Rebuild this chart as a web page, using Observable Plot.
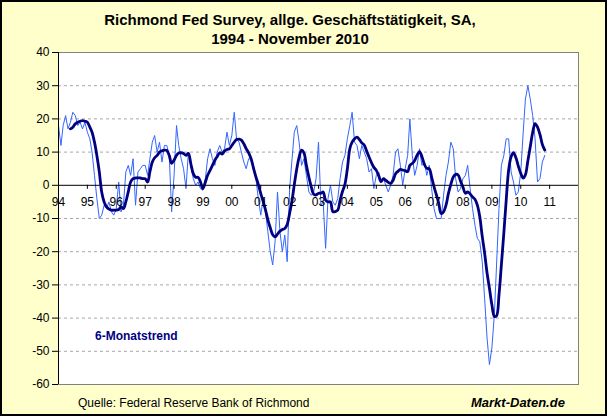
<!DOCTYPE html>
<html>
<head>
<meta charset="utf-8">
<script src="https://cdn.jsdelivr.net/npm/d3@7"></script>
<script src="https://cdn.jsdelivr.net/npm/@observablehq/plot@0.6"></script>
<style>
  html, body { margin: 0; padding: 0; background: #fff; }
  #wrap { position: relative; width: 607px; height: 416px; background: #FFFFCC; overflow: hidden;
          font-family: "Liberation Sans", Arial, sans-serif; }
  #wrap svg { position: absolute; left: 0; top: 0; }
  .t { position: absolute; white-space: nowrap; line-height: 1; color: #000; }
  #border { position: absolute; left: 0; top: 0; width: 607px; height: 416px; box-sizing: border-box;
            border: 2px solid #000; pointer-events: none; }
</style>
</head>
<body>
<div id="wrap">
  <div class="t" style="left:0;width:580px;text-align:center;top:12.3px;font-size:15px;font-weight:bold;">Richmond Fed Survey, allge. Geschäftstätigkeit, SA,</div>
  <div class="t" style="left:0;width:580px;text-align:center;top:31.3px;font-size:15px;font-weight:bold;">1994 - November 2010</div>
  <div id="chart"></div>
  <div class="t" style="left:95px;top:330.3px;font-size:12px;font-weight:bold;color:#000080;">6-Monatstrend</div>
  <div class="t" style="left:78px;top:396.5px;font-size:12px;">Quelle: Federal Reserve Bank of Richmond</div>
  <div class="t" style="left:471px;top:396.3px;font-size:13px;font-weight:bold;font-style:italic;">Markt-Daten.de</div>
  <div id="border"></div>
</div>
<script>
// Monthly index, January 1994 - November 2010
const startYear = 1994;
const monthly = [
  18,12,18,21,17,19,22,21,18,19,17,19,
  16,14,10,3,-4,-10,-9,-6,-7,-5,-8,-9,
  -7,1,-8,-6,4,6,3,8,-6,4,5,6,
  6,3,8,13,15,10,13,7,12,12,9,-8,
  3,18,12,8,5,-1,10,6,2,0,1,-1,
  -1.5,2,8,11,8,6,10,12,10,11,16,12,
  15,22,14,13,10,7,5,8,8,6,2,-4,
  -9,-4,-8,-14,-20,-24,-17,-2,-14,-20,-15,-23,
  -1,8,16,18,13,6,8,3,-2,-3,-2,2,
  13,-6,-5,-19,-4,0,-5,-6,-4,2,7,9,
  14,18,22,13,12,8,12,10,8,4,5,-1,
  3,4,1,2,0,-2,0,3,10,11,6,0,
  5,9,20,9,3,6,11,6,7,3,6,-1,
  -7,-10,-10,-10,-3,3,7,13,11,2,-2,-1,
  2,3,6,-1,-7,-12,-16,-17,-23,-34,-46,-54,
  -49,-39,-24,-7,6,9,14,14,4,1,-3,-2,
  4,16,26,30,26,21,14,1,2,7,9
];
// 6-month trend, June 1994 - November 2010
const trendStartMonth = 5;
const trend = [
  17,17.5,18.5,19,19.3,19.5,19.3,
  19,17.5,16,13,9,4,-2,-5,-6.5,-7.2,-7.5,-7.5,
  -7.5,-7.3,-6.5,-7,-5,-2,1,2,2.2,2.2,2.2,2,
  2,1,4,7,8.3,9,10,10.4,10.6,10.5,9,6.6,
  7.6,9,9.7,9.8,9.6,9,9.6,6.5,3.5,2.4,2.4,1,
  -1,1,3,4.5,6,7.6,8.7,9.8,9.4,10.3,10.8,11,
  12,13,13.8,13.9,13.6,12.5,11,9.8,8,5.2,2.5,0.3,
  -2.5,-4.9,-7.3,-10.4,-12.8,-14.9,-15.5,-14.7,-13.8,-13.3,-13,-11.8,
  -8.4,-4.5,0.2,4.9,8.5,10.6,9.8,6,2.5,-0.4,-2.7,-2.9,
  -2.4,-2.4,-2,-4.5,-5,-5,-7.9,-7.9,-7.5,-4.5,-1.8,0.3,
  5,11,13,14,14.5,13.8,12.8,12.1,10.3,8.5,6.8,5.4,
  4.5,2.8,1.1,2,1.5,0.9,0.6,1.5,3.5,4.2,4.8,4.6,
  4.4,4.1,6,6.6,7.5,9.1,10.1,8.6,6.3,5.1,5,2.5,
  -0.5,-3,-5.4,-8.5,-8,-6,-2.5,0.3,2.5,3.3,3.1,1.3,
  -0.5,-2.4,-2,-2.6,-3.5,-4.2,-6,-9.5,-15.4,-20.4,-26.4,-31,
  -36,-39.5,-39.3,-33,-24,-14.4,-4.5,4.6,8.6,9.8,8.3,5.8,
  3.6,2.2,3.2,7.4,11.6,16,18.6,17.5,15.3,12.3,10.6
];
const yearLabels = ["94","95","96","97","98","99","00","01","02","03","04","05","06","07","08","09","10","11"];
const yTicks = [-60,-50,-40,-30,-20,-10,0,10,20,30,40];
const xDomainYears = [1994, 2012];

const mdate = (i) => new Date(Date.UTC(startYear, i, 1));
const monthlyData = monthly.map((v, i) => ({date: mdate(i), v}));
const trendData = trend.map((v, i) => ({date: mdate(i + trendStartMonth), v}));
const yearData = yearLabels.map((t, i) => ({date: new Date(Date.UTC(startYear + i, 0, 1)), t}));
const gridVals = yTicks.filter(d => d !== 0 && d !== yTicks[0] && d !== yTicks[yTicks.length - 1]);
const x0 = new Date(Date.UTC(xDomainYears[0], 0, 1));
const x1 = new Date(Date.UTC(xDomainYears[1], 0, 1));

const chart = Plot.plot({
  width: 607,
  height: 416,
  marginLeft: 58,
  marginRight: 29,
  marginTop: 52,
  marginBottom: 32,
  style: {background: "transparent", fontFamily: "'Liberation Sans', Arial, sans-serif", color: "#000"},
  x: {type: "utc", domain: [x0, x1], axis: null},
  y: {domain: [yTicks[0], yTicks[yTicks.length - 1]], axis: null},
  marks: [
    Plot.frame({fill: "white", stroke: "#808080"}),
    Plot.ruleY(gridVals, {stroke: "#a8a8a8", strokeDasharray: "3,3"}),
    Plot.lineY(monthlyData, {x: "date", y: "v", stroke: "#3366ff", strokeWidth: 1}),
    Plot.ruleY([0], {stroke: "#000", strokeWidth: 1}),
    Plot.lineY(trendData, {x: "date", y: "v", stroke: "#000080", strokeWidth: 2.8, curve: "catmull-rom"}),
    Plot.ruleX(yearData, {x: "date", y1: 0, y2: 0, insetBottom: -4, stroke: "#000"}),
    Plot.text(yearData, {x: "date", y: 0, text: "t", dy: 17, fontSize: 12, fill: "#000"}),
    Plot.ruleX([x0], {stroke: "#000"}),
    Plot.axisY({ticks: yTicks, tickSize: 6, tickPadding: 3, fontSize: 12, label: null, tickFormat: d => String(d), stroke: "#000", fill: "#000"})
  ]
});
document.getElementById("chart").appendChild(chart);
</script>
</body>
</html>
